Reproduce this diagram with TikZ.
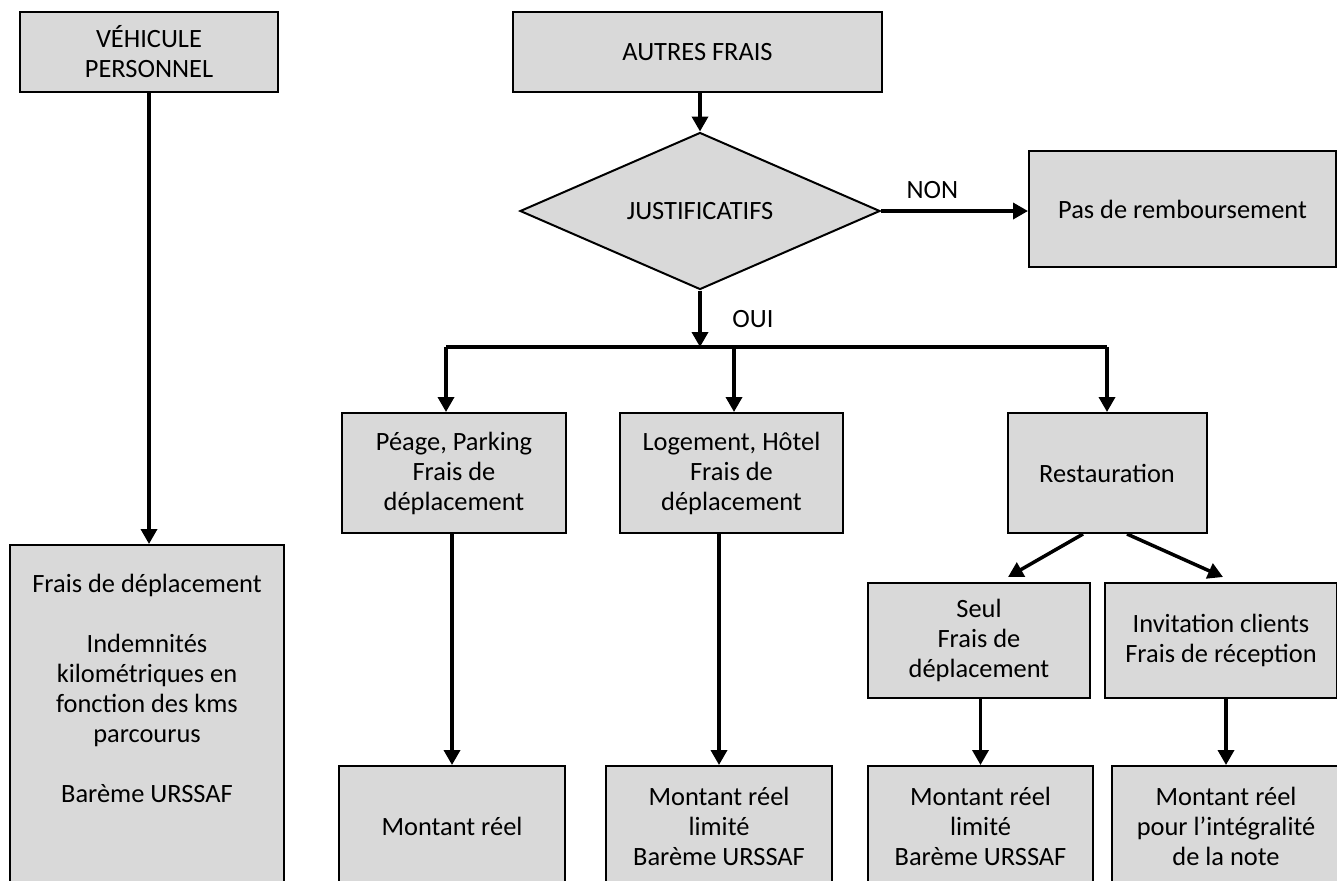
\documentclass[tikz,border=0pt]{standalone}
\usepackage{fontspec}
\setmainfont{Carlito}
\usetikzlibrary{shapes.geometric,arrows.meta}
\definecolor{boxgrey}{HTML}{D9D9D9}

\begin{document}
\begin{tikzpicture}[x=0.5pt,y=-0.5pt,
  box/.style={draw,line width=1pt,fill=boxgrey,align=center,inner sep=2pt,
    font=\fontsize{13.2}{15}\selectfont},
  decision/.style={box,diamond,aspect=2.3,inner sep=0pt},
  arrow/.style={line width=1.75pt,-{Triangle[length=7.5pt,width=8pt]}},
  link/.style={line width=1.75pt},
  lbl/.style={font=\fontsize{13.2}{15}\selectfont}]

\path[use as bounding box] (0,0) rectangle (1337,880);
\clip (0,0) rectangle (1337,880);

\node[box,minimum width=129pt,minimum height=40pt] (veh) at (149,52) {VÉHICULE\\PERSONNEL};
\node[box,anchor=north,minimum width=137pt,inner ysep=14.5pt,text depth=60pt] (frais) at (147,544)
  {Frais de déplacement\\[15pt]Indemnités\\kilométriques en\\fonction des kms\\parcourus\\[15pt]Barème URSSAF};

\node[box,minimum width=184.5pt,minimum height=40pt] (autres) at (697.5,52) {AUTRES FRAIS};
\node[decision,minimum width=180pt,minimum height=78.5pt] (just) at (700,211) {JUSTIFICATIFS};
\node[box,minimum width=153.5pt,minimum height=58pt] (pas) at (1182.5,209) {Pas de remboursement};
\coordinate (split) at (700,347);

\node[box,minimum width=112pt,minimum height=60pt] (peage) at (454,473) {Péage, Parking\\Frais de\\déplacement};
\node[box,minimum width=111.5pt,minimum height=60pt] (logement) at (731.5,473) {Logement, Hôtel\\Frais de\\déplacement};
\node[box,minimum width=99.5pt,minimum height=60pt] (resto) at (1107,473) {Restauration};

\node[box,minimum width=111pt,minimum height=57.5pt] (seul) at (979,640.5) {Seul\\Frais de\\déplacement};
\node[box,minimum width=116pt,minimum height=57.5pt] (invit) at (1221,640.5) {Invitation clients\\Frais de réception};

\node[box,minimum width=113pt,minimum height=60.5pt] (montant) at (452,826.5) {Montant réel};
\node[box,minimum width=113pt,minimum height=60.5pt] (montantlim) at (719,826.5) {Montant réel\\limité\\Barème URSSAF};
\node[box,minimum width=112.5pt,minimum height=60.5pt] (seulbas) at (980.5,826.5) {Montant réel\\limité\\Barème URSSAF};
\node[box,minimum width=114pt,minimum height=60.5pt] (invitbas) at (1226,826.5) {Montant réel\\pour l’intégralité\\de la note};

\draw[arrow] (veh.south) -- (veh.south |- frais.north);
\draw[arrow] (autres.south -| just.north) -- (just.north);
\draw[arrow] (just.east) -- node[lbl,above=2pt,pos=0.35] {NON} (just.east -| pas.west);
\draw[arrow] (just.south) -- node[lbl,right=12pt,pos=0.5] {OUI} (split);

\draw[link] ([xshift=-4pt]peage.north |- split) -- (resto.north |- split);
\draw[arrow] ([xshift=-4pt]peage.north |- split) -- ([xshift=-4pt]peage.north);
\draw[arrow] ([xshift=1.25pt]logement.north |- split) -- ([xshift=1.25pt]logement.north);
\draw[arrow] (resto.north |- split) -- (resto.north);

\draw[arrow] ([xshift=-12pt]resto.south) -- ([xshift=14.5pt,yshift=2.5pt]seul.north);
\draw[arrow] ([xshift=10pt]resto.south) -- ([xshift=1pt,yshift=2.5pt]invit.north);

\draw[arrow] (montant.north |- peage.south) -- (montant.north);
\draw[arrow] (montantlim.north |- logement.south) -- (montantlim.north);
\draw[arrow] (seulbas.north |- seul.south) -- (seulbas.north);
\draw[arrow] (invitbas.north |- invit.south) -- (invitbas.north);

\end{tikzpicture}
\end{document}
